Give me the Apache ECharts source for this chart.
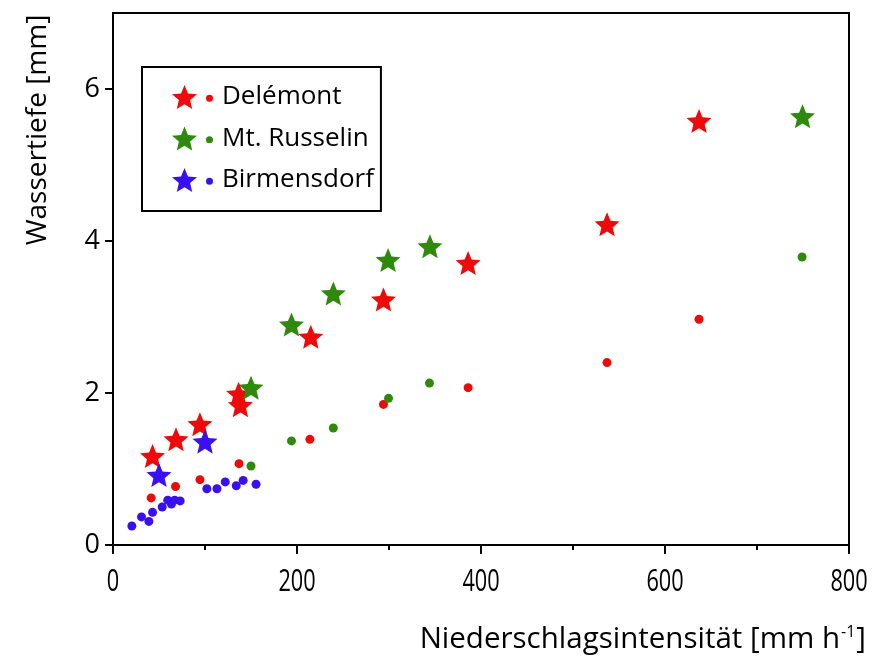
<!DOCTYPE html>
<html>
<head>
<meta charset="utf-8">
<title>Wassertiefe vs. Niederschlagsintensität</title>
<script src="https://cdn.jsdelivr.net/npm/echarts@6/dist/echarts.min.js"></script>
<style>
  html, body { margin: 0; padding: 0; background: #fff; }
  #chart { width: 873px; height: 659px; }
</style>
</head>
<body>
<div id="chart"></div>
<script>
// Rainfall intensity [mm/h] and water depth [mm] per site.
// Stars: water depth (max), dots: water depth (mean).
const siteNames = ['Delémont', 'Mt. Russelin', 'Birmensdorf'];
const siteColors = ['#ee0a0a', '#2f8a0c', '#3a10f2'];

const delemontStarX = [43, 68.5, 94.5, 136.5, 138.5, 215, 294, 386, 537, 637];
const delemontStarY = [1.17, 1.39, 1.59, 1.99, 1.84, 2.74, 3.23, 3.71, 4.22, 5.58];
const delemontDotX = [41.5, 68, 94.5, 137, 214, 294, 386, 537, 637];
const delemontDotY = [0.62, 0.77, 0.86, 1.07, 1.39, 1.85, 2.07, 2.40, 2.97];

const russelinStarX = [150, 194, 239.5, 299, 344.5, 749.5];
const russelinStarY = [2.07, 2.90, 3.31, 3.75, 3.93, 5.64];
const russelinDotX = [150, 194, 239.5, 299.5, 344, 749];
const russelinDotY = [1.04, 1.37, 1.54, 1.93, 2.13, 3.79];

const birmensdorfStarX = [50, 100];
const birmensdorfStarY = [0.92, 1.36];
const birmensdorfDotX = [20.5, 31, 39, 43, 53.5, 59.5, 63.5, 67, 73, 102, 113, 122, 134, 141.5, 155.5];
const birmensdorfDotY = [0.25, 0.37, 0.31, 0.43, 0.50, 0.59, 0.54, 0.59, 0.58, 0.74, 0.74, 0.83, 0.78, 0.85, 0.80];

const xTicks = [0, 200, 400, 600, 800];
const yTicks = [0, 2, 4, 6];

const FONT = '"Open Sans", "Noto Sans", sans-serif';

// Five-pointed star outline as an SVG path string.
function starPath(cx, cy, R, r) {
  let d = '';
  for (let i = 0; i < 10; i++) {
    const a = -Math.PI / 2 + i * Math.PI / 5;
    const rad = i % 2 ? r : R;
    d += (i ? 'L' : 'M') + (cx + rad * Math.cos(a)).toFixed(2) + ' ' + (cy + rad * Math.sin(a)).toFixed(2) + ' ';
  }
  return d + 'Z';
}

const R = 13.14;
const STAR = 'path://' + starPath(0, 0, R, R * 0.45);
// Legend icon: star, then a small dot, padded on the right.
const LEGEND_ICON = 'path://' + starPath(12.5, R, R, R * 0.45) +
  ' M34 ' + R + ' A3.5 3.5 0 1 0 41 ' + R + ' A3.5 3.5 0 1 0 34 ' + R + ' Z M45 ' + R;

function zip(xs, ys) { return xs.map((x, i) => [x, ys[i]]); }

const groups = [
  [delemontStarX, delemontStarY, delemontDotX, delemontDotY],
  [russelinStarX, russelinStarY, russelinDotX, russelinDotY],
  [birmensdorfStarX, birmensdorfStarY, birmensdorfDotX, birmensdorfDotY]
];

const series = [];
groups.forEach((g, k) => {
  series.push({
    type: 'scatter', name: siteNames[k], data: zip(g[0], g[1]),
    symbol: STAR, symbolSize: [25, 24], itemStyle: { color: siteColors[k], opacity: 1 },
    z: 3 + k, silent: true
  });
  series.push({
    type: 'scatter', name: siteNames[k], data: zip(g[2], g[3]),
    symbol: 'circle', symbolSize: 9, itemStyle: { color: siteColors[k], opacity: 1 },
    z: 3 + k, silent: true
  });
});

const chart = echarts.init(document.getElementById('chart'), null, { renderer: 'canvas' });
chart.setOption({
  backgroundColor: '#ffffff',
  animation: false,
  grid: {
    left: 113, right: 24, top: 13, bottom: 114,
    show: true, borderColor: '#000', borderWidth: 2, backgroundColor: 'transparent'
  },
  legend: {
    left: 142, top: 67, orient: 'vertical',
    padding: [17, 7, 18, 30], itemGap: 15.5,
    itemWidth: 45, itemHeight: 24,
    borderColor: '#000', borderWidth: 2,
    selectedMode: false,
    data: siteNames.map(n => ({ name: n, icon: LEGEND_ICON })),
    textStyle: { fontFamily: FONT, fontSize: 26, lineHeight: 26, color: '#000' }
  },
  xAxis: {
    type: 'value', min: xTicks[0], max: xTicks[xTicks.length - 1], interval: 200,
    axisLine: { show: true, onZero: false, lineStyle: { color: '#000', width: 2 } },
    axisTick: { show: true, inside: false, length: 9, lineStyle: { color: '#000', width: 2 } },
    minorTick: { show: true, splitNumber: 2, length: 5, lineStyle: { color: '#000', width: 2 } },
    splitLine: { show: false },
    // tick labels are drawn below in a condensed form
    axisLabel: { show: false }
  },
  yAxis: {
    type: 'value', min: 0, max: 7, interval: 2,
    axisLine: { show: true, onZero: false, lineStyle: { color: '#000', width: 2 } },
    axisTick: { show: true, inside: false, length: 8, customValues: yTicks, lineStyle: { color: '#000', width: 2 } },
    splitLine: { show: false },
    axisLabel: { fontFamily: FONT, fontSize: 27, color: '#000', margin: 13, customValues: yTicks }
  },
  series: series
});

// Condensed x tick labels, placed through the x axis scale.
const axisY = chart.convertToPixel({ yAxisIndex: 0 }, 0);
const xLabelGraphics = xTicks.map(v => ({
  type: 'text',
  x: chart.convertToPixel({ xAxisIndex: 0 }, v),
  y: axisY + 37,
  scaleX: 0.7,
  style: {
    text: String(v), fontFamily: FONT, fontSize: 31, fill: '#000',
    align: 'center', verticalAlign: 'middle'
  }
}));

chart.setOption({
  graphic: xLabelGraphics.concat([
    {
      type: 'text', x: 38, y: 130, rotation: Math.PI / 2,
      style: {
        text: 'Wassertiefe [mm]', fontFamily: FONT, fontSize: 28, fill: '#000',
        align: 'center', verticalAlign: 'middle'
      }
    },
    {
      type: 'text', x: 866, y: 640,
      style: {
        text: '{a|Niederschlagsintensität [mm h}{s|-1}{a|]}',
        align: 'right', verticalAlign: 'middle',
        rich: {
          a: { fontFamily: FONT, fontSize: 29.5, fill: '#000', color: '#000' },
          s: { fontFamily: FONT, fontSize: 16, fill: '#000', color: '#000', padding: [0, 1, 15, 1] }
        }
      }
    }
  ])
});
</script>
</body>
</html>
